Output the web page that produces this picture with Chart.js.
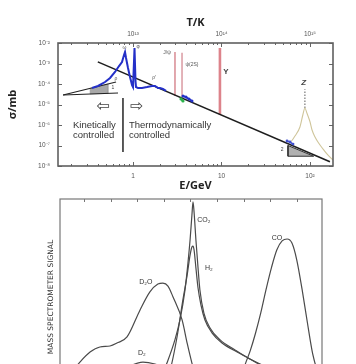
<!DOCTYPE html>
<html><head><meta charset="utf-8">
<script src="https://cdn.jsdelivr.net/npm/chart.js@4.4.0/dist/chart.umd.min.js"></script>
<style>
html,body{margin:0;padding:0;background:#fff;overflow:hidden;width:356px;height:364px;position:relative;}
#top{position:absolute;left:0;top:0;}
#bot{position:absolute;left:0;top:192px;}
</style></head><body>
<canvas id="top" width="356" height="192"></canvas>
<canvas id="bot" width="356" height="230"></canvas>
<script>
// ---------- TOP CHART DATA (E in GeV, sigma in mb) ----------
const energyTicks = [1, 10, 100];
const energyTickLabels = ['1', '10', '10²'];
const tempTicks = [1e13, 1e14, 1e15];
const tempTickLabels = ['10¹³', '10¹⁴', '10¹⁵'];
const sigmaTicks = [1e-2, 1e-3, 1e-4, 1e-5, 1e-6, 1e-7, 1e-8];
const sigmaTickLabels = ['10⁻²', '10⁻³', '10⁻⁴', '10⁻⁵', '10⁻⁶', '10⁻⁷', '10⁻⁸'];

const scalingLineE = [0.40, 168];
const scalingLineSigma = [1.2e-3, 1.6e-8];

const hadronE = [0.344, 0.402, 0.483, 0.550, 0.626, 0.695, 0.751, 0.791, 0.812, 0.834, 0.878, 0.925, 0.975, 1.0, 1.026, 1.04, 1.053, 1.067, 1.081, 1.139, 1.264, 1.44, 1.64, 1.774, 1.916, 2.02, 2.18, 2.36];
const hadronSigma = [6.4e-5, 8.0e-5, 1.25e-4, 1.96e-4, 3.85e-4, 7.5e-4, 1.18e-3, 2.6e-3, 3.6e-3, 1.85e-3, 6.0e-4, 2.2e-4, 8.9e-5, 7.1e-5, 7.1e-5, 5.7e-3, 5.7e-3, 1.4e-4, 7.1e-5, 6.4e-5, 6.4e-5, 7.1e-5, 8.0e-5, 8.0e-5, 6.4e-5, 6.4e-5, 5.7e-5, 4.6e-5];

const charmBlueE = [3.67, 3.97, 4.29, 4.64];
const charmBlueSigma = [2.6e-5, 2.3e-5, 1.86e-5, 1.48e-5];
const charmGreenE = [3.49, 3.67];
const charmGreenSigma = [1.86e-5, 1.48e-5];
const zBlueE = [55.0, 59.4, 64.3];
const zBlueSigma = [1.66e-7, 1.48e-7, 1.17e-7];

const jpsiE = [2.98, 2.98];
const jpsiSigma = [3.6e-3, 2.6e-5];
const psi2sE = [3.58, 3.58];
const psi2sSigma = [3.3e-3, 1.8e-5];
const upsilonE = [9.6, 9.6];
const upsilonSigma = [5.7e-3, 3.2e-6];

const zPeakE = [55.0, 59.4, 67.6, 77.0, 83.0, 87.6, 92.3, 100.2, 105.5, 114, 123, 140, 159, 182];
const zPeakSigma = [1.7e-7, 1.48e-7, 2.9e-7, 8.0e-7, 3.08e-6, 6.8e-6, 3.85e-6, 1.4e-6, 5.7e-7, 2.6e-7, 1.48e-7, 6.8e-8, 3.45e-8, 1.96e-8];
const zDashE = [87.6, 87.6];
const zDashSigma = [6.8e-6, 5.5e-5];

const slopeOneE = [0.162, 0.643];
const slopeOneSigma = [2.9e-5, 1.25e-4];
const flatE = [0.162, 0.677];
const flatSigma = [2.9e-5, 3.64e-5];
const wedgeE = [0.327, 0.522, 0.522, 0.327, 0.327];
const wedgeSigma = [6.1e-5, 1.0e-4, 3.48e-5, 3.25e-5, 6.1e-5];
const slopeTwoE = [56.4, 56.4, 110, 56.4];
const slopeTwoSigma = [1.0e-7, 3.0e-8, 3.0e-8, 1.0e-7];

const dividerE = [0.77, 0.77];
const dividerSigma = [2.07e-5, 4.8e-8];

// ---------- BOTTOM CHART DATA (arbitrary units) ----------
const d2oX = [2.9, 5.5, 8.5, 12.3, 16.0, 19.8, 22.4, 26.2, 31.1, 34.8, 37.8, 39.7, 41.6, 43.5, 46.9, 48.8, 50.6, 52.5, 54.4];
const d2oY = [5.1, 11.7, 16.8, 21.9, 24.5, 25.0, 26.5, 29.6, 43.4, 52.6, 56.6, 57.1, 55.6, 50.0, 38.3, 26.5, 16.3, 7.7, 1.5];
const co2X = [34.8, 38.6, 41.2, 44.2, 46.1, 48.0, 49.1, 49.9, 50.6, 51.0, 51.4, 52.1, 52.9, 53.6, 55.1, 57.4, 61.2, 66.8, 71.7, 77.0];
const co2Y = [1.5, 7.7, 16.3, 28.1, 38.3, 53.6, 67.3, 79.1, 91.8, 98.5, 93.4, 79.1, 64.8, 53.6, 41.8, 34.2, 28.1, 23.0, 18.9, 15.3];
const h2X = [38.6, 42.4, 45.0, 47.2, 48.8, 49.9, 50.6, 51.0, 51.4, 52.1, 52.9, 54.0, 55.5, 58.2, 61.9, 67.6, 72.4, 77.0];
const h2Y = [2.6, 12.8, 29.6, 48.5, 61.2, 71.4, 75.5, 76.0, 74.0, 64.8, 54.6, 45.9, 38.3, 31.6, 26.5, 21.9, 18.4, 14.8];
const coX = [67.9, 70.6, 72.5, 74.5, 76.5, 78.5, 80.5, 82.5, 84.5, 86.4, 88.2, 90.0, 92.0, 94.0, 96.0, 98.4];
const coY = [2.6, 15.5, 22.5, 31.5, 42.0, 54.0, 65.0, 74.0, 78.6, 79.6, 77.5, 69.0, 54.0, 37.0, 21.0, 9.0];
const d2X = [21.7, 27.3, 32.2, 36.7, 42.4, 48.0];
const d2Y = [10.2, 14.8, 16.8, 15.8, 12.8, 8.7];
const botTicks = [10, 20, 30, 40, 50, 60, 70, 80, 90];

// ---------- helpers ----------
const zip = (xs, ys) => xs.map((x, i) => ({x: x, y: ys[i]}));
Chart.defaults.font.family = "'Liberation Sans', Arial, sans-serif";
Chart.defaults.animation = false;

function lineDs(xs, ys, color, width, extra) {
  return Object.assign({data: zip(xs, ys), showLine: true, borderColor: color, borderWidth: width,
    pointRadius: 0, fill: false, tension: 0}, extra || {});
}

const topDatasets = [
  lineDs(wedgeE, wedgeSigma, '#9a9a9a', 0.5, {fill: 'shape', backgroundColor: '#a8a8a8', order: 9}),
  lineDs(slopeTwoE, slopeTwoSigma, '#333', 1, {fill: 'shape', backgroundColor: '#b0b0b0', order: 9}),
  lineDs(slopeOneE, slopeOneSigma, '#222', 1.2, {order: 8}),
  lineDs(flatE, flatSigma, '#222', 1.2, {order: 8}),
  lineDs(zPeakE, zPeakSigma, '#cfc59a', 1.1, {order: 7, cubicInterpolationMode: 'monotone'}),
  lineDs(zDashE, zDashSigma, '#777', 1.2, {order: 7, borderDash: [1.5, 1.5]}),
  lineDs(jpsiE, jpsiSigma, 'rgba(205,110,120,0.75)', 1.6, {order: 6}),
  lineDs(psi2sE, psi2sSigma, 'rgba(205,120,130,0.7)', 1.6, {order: 6}),
  lineDs(upsilonE, upsilonSigma, 'rgba(210,90,100,0.75)', 2.6, {order: 6}),
  lineDs(scalingLineE, scalingLineSigma, '#1e1e1e', 1.6, {order: 5}),
  lineDs(hadronE, hadronSigma, '#2430c8', 2, {order: 2}),
  lineDs(charmGreenE, charmGreenSigma, '#2bb24a', 2, {order: 3, pointRadius: 1.6, pointBackgroundColor: '#2bb24a', pointBorderWidth: 0}),
  lineDs(charmBlueE, charmBlueSigma, '#2430c8', 2, {order: 2, pointRadius: 1.5, pointBackgroundColor: '#2430c8', pointBorderWidth: 0}),
  lineDs(zBlueE, zBlueSigma, '#4050d0', 1.5, {order: 2, pointRadius: 1.4, pointBackgroundColor: '#4050d0', pointBorderWidth: 0}),
  lineDs(dividerE, dividerSigma, '#333', 1.6, {order: 4})
];

const topNotes = [
  {t: 'Kinetically', x: 0.21, y: 1e-6, size: 9.5, align: 'left', color: '#333'},
  {t: 'controlled', x: 0.21, y: 3.2e-7, size: 9.5, align: 'left', color: '#333'},
  {t: 'Thermodynamically', x: 0.90, y: 1e-6, size: 9.5, align: 'left', color: '#333'},
  {t: 'controlled', x: 0.90, y: 3.2e-7, size: 9.5, align: 'left', color: '#333'},
  {t: '⇦', x: 0.458, y: 7.6e-6, size: 16, align: 'center', color: '#444', family: "'DejaVu Sans'"},
  {t: '⇨', x: 1.11, y: 7.6e-6, size: 16, align: 'center', color: '#444', family: "'DejaVu Sans'"},
  {t: 'ω', x: 0.80, y: 5.7e-3, size: 5, align: 'center', color: '#555'},
  {t: 'φ', x: 1.14, y: 6.4e-3, size: 5, align: 'center', color: '#555'},
  {t: 'ρ′', x: 1.73, y: 2.0e-4, size: 5, align: 'center', color: '#555'},
  {t: 'ρ', x: 0.64, y: 1.75e-4, size: 5, align: 'center', color: '#555'},
  {t: '1', x: 0.594, y: 6.4e-5, size: 5, align: 'center', color: '#444'},
  {t: 'J/ψ', x: 2.42, y: 3.3e-3, size: 5, align: 'center', color: '#555'},
  {t: 'ψ(2S)', x: 4.64, y: 8.5e-4, size: 5, align: 'center', color: '#555'},
  {t: 'Υ', x: 11.2, y: 3.8e-4, size: 8, align: 'center', color: '#444', weight: 'bold'},
  {t: 'Z', x: 85, y: 1.1e-4, size: 8, align: 'center', color: '#444', weight: 'bold', style: 'italic'},
  {t: '2', x: 48.3, y: 6.0e-8, size: 5, align: 'center', color: '#444'}
];

const notesPlugin = (notes, xId, yId) => ({
  id: 'notes',
  afterDatasetsDraw(chart) {
    const ctx = chart.ctx, xs = chart.scales[xId], ys = chart.scales[yId];
    ctx.save();
    notes.forEach(n => {
      ctx.font = (n.style || 'normal') + ' ' + (n.weight || 'normal') + ' ' + n.size + 'px ' + (n.family || "'Liberation Sans', Arial, sans-serif");
      ctx.fillStyle = n.color;
      ctx.textAlign = n.align;
      ctx.textBaseline = 'middle';
      ctx.fillText(n.t, xs.getPixelForValue(n.x), ys.getPixelForValue(n.y));
    });
    ctx.restore();
  }
});

const topFrame = {
  id: 'topFrame',
  afterDatasetsDraw(chart) {
    const ctx = chart.ctx, a = chart.chartArea, xs = chart.scales.x, ys = chart.scales.y;
    ctx.save();
    ctx.strokeStyle = '#666';
    ctx.lineWidth = 1;
    ctx.beginPath();
    for (let e = -1; e <= 2; e++) {
      for (let m = 1; m <= 9; m++) {
        const v = m * Math.pow(10, e);
        if (v < xs.min || v > xs.max) continue;
        const px = Math.round(xs.getPixelForValue(v)) + 0.5;
        const len = m === 1 ? 4 : 2;
        ctx.moveTo(px, a.bottom); ctx.lineTo(px, a.bottom - len);
        ctx.moveTo(px, a.top); ctx.lineTo(px, a.top + len);
      }
    }
    sigmaTicks.forEach(v => {
      const py = Math.round(ys.getPixelForValue(v)) + 0.5;
      ctx.moveTo(a.left, py); ctx.lineTo(a.left + 4, py);
      ctx.moveTo(a.right, py); ctx.lineTo(a.right - 4, py);
    });
    ctx.stroke();
    ctx.lineWidth = 1.6;
    ctx.strokeStyle = '#606060';
    ctx.strokeRect(a.left, a.top, a.right - a.left, a.bottom - a.top);
    ctx.restore();
  }
};

new Chart(document.getElementById('top'), {
  type: 'scatter',
  data: {datasets: topDatasets},
  options: {
    responsive: false, devicePixelRatio: 1, animation: false,
    layout: {padding: {left: 0, right: 23, top: 0, bottom: 0}},
    plugins: {legend: {display: false}, tooltip: {enabled: false}},
    scales: {
      x: {type: 'logarithmic', position: 'bottom', min: 0.142, max: 182, bounds: 'data',
        afterBuildTicks: s => { s.ticks = energyTicks.map(v => ({value: v})); },
        afterFit: s => { s.height = 26; },
        grid: {display: false, drawTicks: false}, border: {display: false},
        ticks: {callback: (v, i) => energyTickLabels[i], font: {size: 6.5}, color: '#555', padding: 6, maxRotation: 0, autoSkip: false},
        title: {display: true, text: 'E/GeV', font: {size: 11, weight: 'bold', family: "'Open Sans'"}, color: '#222', padding: {top: 0, bottom: 0}}},
      xt: {type: 'logarithmic', axis: 'x', position: 'top', min: 0.142e13, max: 182e13, bounds: 'data',
        afterBuildTicks: s => { s.ticks = tempTicks.map(v => ({value: v})); },
        afterFit: s => { s.height = 43; },
        grid: {display: false, drawTicks: false}, border: {display: false},
        ticks: {callback: (v, i) => tempTickLabels[i], font: {size: 6.5}, color: '#555', padding: 5, maxRotation: 0, autoSkip: false},
        title: {display: true, text: 'T/K', font: {size: 11, weight: 'bold', family: "'Open Sans'"}, color: '#222', padding: {top: 16, bottom: 0}}},
      y: {type: 'logarithmic', position: 'left', min: 1e-8, max: 1e-2, bounds: 'data',
        afterBuildTicks: s => { s.ticks = sigmaTicks.map(v => ({value: v})); },
        afterFit: s => { s.width = 58; },
        grid: {display: false, drawTicks: false}, border: {display: false},
        ticks: {callback: (v, i) => sigmaTickLabels[i], font: {size: 6.5}, color: '#555', padding: 8, autoSkip: false},
        title: {display: true, text: 'σ/mb', font: {size: 11, weight: 'bold', family: "'Open Sans'"}, color: '#222', padding: {top: 6, bottom: 0}}}
    }
  },
  plugins: [topFrame, notesPlugin(topNotes, 'x', 'y')]
});

// ---------- BOTTOM CHART ----------
const botStyle = {cubicInterpolationMode: 'monotone'};
const botDatasets = [
  lineDs(d2oX, d2oY, '#4a4a4a', 1.2, botStyle),
  lineDs(co2X, co2Y, '#4a4a4a', 1.2, botStyle),
  lineDs(h2X, h2Y, '#4a4a4a', 1.2, botStyle),
  lineDs(coX, coY, '#4a4a4a', 1.2, botStyle),
  lineDs(d2X, d2Y, '#4a4a4a', 1.2, botStyle)
];
const botNotes = [
  {t: 'CO₂', x: 52.6, y: 89.3, size: 7, align: 'left', color: '#333'},
  {t: 'H₂', x: 57.0, y: 64.8, size: 7, align: 'center', color: '#333'},
  {t: 'D₂O', x: 33.3, y: 57.7, size: 7, align: 'center', color: '#333'},
  {t: 'CO', x: 82.6, y: 80.1, size: 7, align: 'center', color: '#333'},
  {t: 'D₂', x: 31.8, y: 21.4, size: 7, align: 'center', color: '#333'}
];
const botFrame = {
  id: 'botFrame',
  afterDatasetsDraw(chart) {
    const ctx = chart.ctx, a = chart.chartArea, xs = chart.scales.x;
    ctx.save();
    ctx.strokeStyle = '#777';
    ctx.lineWidth = 1.2;
    ctx.strokeRect(a.left, a.top, a.right - a.left, a.bottom - a.top);
    ctx.lineWidth = 1;
    ctx.beginPath();
    botTicks.forEach(v => {
      const px = Math.round(xs.getPixelForValue(v)) + 0.5;
      ctx.moveTo(px, a.top); ctx.lineTo(px, a.top + 3);
    });
    ctx.stroke();
    ctx.restore();
  }
};
new Chart(document.getElementById('bot'), {
  type: 'scatter',
  data: {datasets: botDatasets},
  options: {
    responsive: false, devicePixelRatio: 1, animation: false,
    layout: {padding: {left: 0, right: 34, top: 7, bottom: 27}},
    plugins: {legend: {display: false}, tooltip: {enabled: false}},
    scales: {
      x: {type: 'linear', min: 1, max: 99.5, display: false},
      y: {type: 'linear', min: 0, max: 100, position: 'left',
        afterFit: s => { s.width = 60; },
        grid: {display: false, drawTicks: false}, border: {display: false},
        ticks: {display: false},
        title: {display: true, text: 'MASS SPECTROMETER SIGNAL', font: {size: 7.5, family: "'DejaVu Sans'"}, color: '#333', padding: {top: 47, bottom: 0}}}
    }
  },
  plugins: [botFrame, notesPlugin(botNotes, 'x', 'y')]
});
</script>
</body></html>
